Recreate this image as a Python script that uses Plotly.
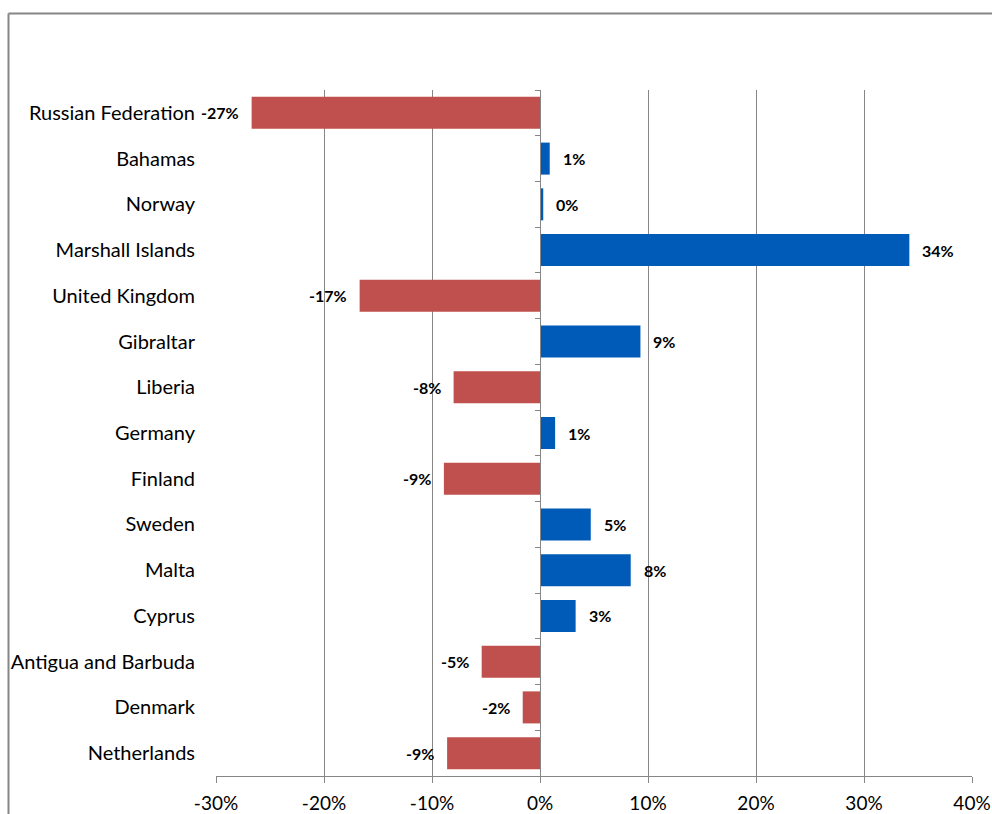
import plotly.graph_objects as go

# Change in registered fleet by flag state
countries = [
    "Russian Federation", "Bahamas", "Norway", "Marshall Islands", "United Kingdom",
    "Gibraltar", "Liberia", "Germany", "Finland", "Sweden", "Malta", "Cyprus",
    "Antigua and Barbuda", "Denmark", "Netherlands",
]
change = [
    -0.267, 0.009, 0.003, 0.342, -0.167,
    0.093, -0.080, 0.014, -0.089, 0.047, 0.084, 0.033,
    -0.054, -0.016, -0.086,
]
x_ticks = [-0.3, -0.2, -0.1, 0.0, 0.1, 0.2, 0.3, 0.4]
x_tick_text = ["-30%", "-20%", "-10%", "0%", "10%", "20%", "30%", "40%"]

NEG = "#C0504D"
POS = "#005BB8"
GRID = "#868686"
FONT = "Lato, Carlito, Calibri, sans-serif"

W, H = 992, 814
L, R, T, B = 216, 20, 90, 38

colors = [NEG if v < 0 else POS for v in change]
labels = [f"{round(v * 100):.0f}%" for v in change]

fig = go.Figure()
fig.add_trace(go.Bar(
    x=change, y=countries, orientation="h",
    marker=dict(color=colors, line=dict(width=0)),
    hoverinfo="skip", showlegend=False,
))
# invisible companion trace so the axis drawn at zero carries category ticks
fig.add_trace(go.Scatter(
    x=[0] * len(countries), y=countries, yaxis="y2", mode="markers",
    marker=dict(size=0, opacity=0), hoverinfo="skip", showlegend=False,
))

for c, v, t in zip(countries, change, labels):
    fig.add_annotation(
        x=v, y=c, text=f"<b>{t}</b>", showarrow=False,
        xanchor="left" if v >= 0 else "right",
        xshift=11 if v >= 0 else -11,
        font=dict(family=FONT, size=16, color="#000000"),
    )

pw = W - L - R
ph = H - T - B
zero_pos = (0 - x_ticks[0]) / (x_ticks[-1] - x_ticks[0])
cat_range = [len(countries) - 0.5, -0.5]

fig.update_layout(
    width=W, height=H,
    margin=dict(l=L, r=R, t=T, b=B, autoexpand=False),
    paper_bgcolor="white", plot_bgcolor="white",
    bargap=0.3,
    font=dict(family=FONT, size=20, color="#000000"),
    xaxis=dict(
        range=[x_ticks[0], x_ticks[-1]], tickvals=x_ticks, ticktext=x_tick_text,
        showgrid=True, gridcolor=GRID, gridwidth=1,
        zeroline=False, showline=True, linecolor=GRID, linewidth=1,
        ticks="outside", ticklen=6, tickcolor=GRID, ticklabelstandoff=4,
        tickfont=dict(family=FONT, size=19),
        automargin=False, fixedrange=True,
    ),
    yaxis=dict(
        type="category", range=cat_range,
        showgrid=False, zeroline=False, showline=False, ticks="",
        ticklabelstandoff=20, tickfont=dict(family=FONT, size=20),
        automargin=False,
    ),
    yaxis2=dict(
        type="category", matches="y", overlaying="y", anchor="free",
        position=zero_pos, side="left",
        showgrid=False, zeroline=False, showline=True, linecolor=GRID, linewidth=1,
        ticks="outside", ticklen=5, tickcolor=GRID, tickson="boundaries",
        showticklabels=False, automargin=False,
    ),
)

# outer chart frame (top and left edges visible within the page)
frame_top = (H - B - 13.5) / ph
frame_left = (8.5 - L) / pw
fig.add_shape(type="line", xref="paper", yref="paper",
              x0=frame_left, x1=(W + 5 - L) / pw, y0=frame_top, y1=frame_top,
              line=dict(color=GRID, width=2))
fig.add_shape(type="line", xref="paper", yref="paper",
              x0=frame_left, x1=frame_left, y0=frame_top, y1=-(B + 5) / ph,
              line=dict(color=GRID, width=2))

fig.write_html("out.html")
